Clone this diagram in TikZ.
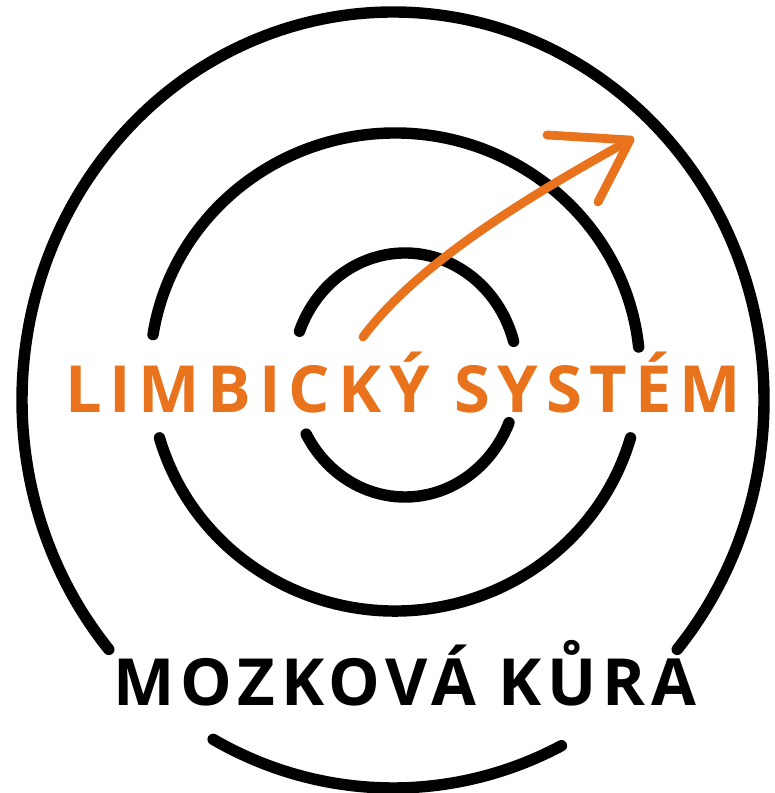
\documentclass[tikz,border=0pt]{standalone}
\usepackage{fontspec}
\setmainfont{Open Sans}
\usepackage{xcolor}
\usepackage{tikz}
\usetikzlibrary{arrows.meta,calc,positioning}
\definecolor{brainorange}{RGB}{232,115,28}

\tikzset{
  ring/.style={line width=6.5pt,line cap=round,black},
  label/.style={anchor=base,inner sep=0pt,font=\fontsize{37}{40}\selectfont\bfseries\addfontfeature{LetterSpace=9}},
  widelabel/.style={label,font=\fontsize{37}{40}\selectfont\bfseries\addfontfeature{LetterSpace=12}},
}

\begin{document}
\begin{tikzpicture}[x=0.2mm,y=0.2mm]
		\useasboundingbox (0,0) rectangle (775,793);
		% centres of the three rings
		\coordinate (outerc) at (393,393);
		\coordinate (midc) at (395,421);
		\coordinate (innerc) at (405,418);
		% outer ring, open at the bottom for the label
		\draw[ring] (outerc) ++(-40:371 and 388) arc[start angle=-40,end angle=220,x radius=371,y radius=388];
		\draw[ring] (outerc) ++(241:371 and 388) arc[start angle=241,end angle=297,x radius=371,y radius=388];
		% middle ring
		\draw[ring] (midc) ++(6:245 and 239) arc[start angle=6,end angle=171,x radius=245,y radius=239];
		\draw[ring] (midc) ++(196:245 and 239) arc[start angle=196,end angle=344,x radius=245,y radius=239];
		% inner ring
		\draw[ring] (innerc) ++(16:113 and 122) arc[start angle=16,end angle=159,x radius=113,y radius=122];
		\draw[ring] (innerc) ++(209:113 and 122) arc[start angle=209,end angle=337,x radius=113,y radius=122];
		% labels
		\node[widelabel,text=brainorange] (limbic) at (403,380) {LIMBICKÝ SYSTÉM};
		\node[label] (cortex) at (405,87) {MOZKOVÁ KŮRA};
		% arrow out of the centre
		\coordinate (start) at (363,456);
		\coordinate (tip) at (630,653);
		\draw[line width=5pt,line cap=round,brainorange] (start) .. controls (420,533) and (540,603) .. (tip);
		\draw[line width=5pt,line cap=round,line join=round,brainorange] (547,658) -- (tip) -- (598,591);
\end{tikzpicture}
\end{document}
